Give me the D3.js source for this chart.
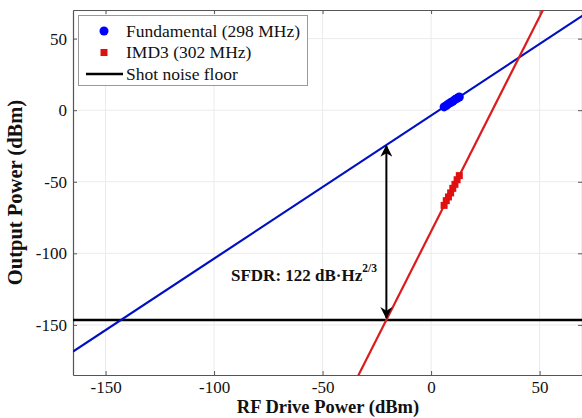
<!DOCTYPE html>
<html>
<head>
<meta charset="utf-8">
<script src="https://cdn.jsdelivr.net/npm/d3@7"></script>
<style>
  body { margin: 0; background: #fff; }
  text { font-family: "Liberation Serif", "Times New Roman", serif; }
</style>
</head>
<body>
<svg id="chart" width="582" height="418"></svg>
<script>
// measured drive powers (dBm) and output powers (dBm)
const drivePower = [6, 7, 8, 9, 10, 11, 12, 13]
const fundamental = [2.3, 3.2, 4.4, 5.3, 6.2, 7.4, 8.3, 9.2]
const imd3 = [-66.5, -63.2, -60.6, -57.8, -54.6, -51.8, -48.6, -45.7]

// fitted lines: output = slope * input + offset
const fundFit = {slope: 1, offset: -3.7}
const imd3Fit = {slope: 3, offset: -84.7}
const noiseFloor = -146.5

const xTicks = [-150, -100, -50, 0, 50]
const yTicks = [50, 0, -50, -100, -150]
const xDomain = [-165, 70]
const yDomain = [-185, 70]

const legendItems = [
  {label: 'Fundamental (298 MHz)', type: 'circle', color: '#0000ff'},
  {label: 'IMD3 (302 MHz)', type: 'square', color: '#e01010'},
  {label: 'Shot noise floor', type: 'line', color: '#000'}
]

const margin = {left: 73, right: 0, top: 10, bottom: 43}
const width = 582
const height = 418

const svg = d3.select('#chart')

const x = d3.scaleLinear().domain(xDomain).range([margin.left, width - margin.right + 1])
const y = d3.scaleLinear().domain(yDomain).range([height - margin.bottom, margin.top])

const plotW = x.range()[1] - x.range()[0]
const plotH = y.range()[0] - y.range()[1]

svg.append('defs').append('clipPath').attr('id', 'clip')
  .append('rect')
  .attr('x', x.range()[0]).attr('y', y.range()[1])
  .attr('width', plotW).attr('height', plotH)

// grid
const grid = svg.append('g')
grid.selectAll('.gx').data(xTicks).enter().append('line')
  .attr('x1', (d) => x(d)).attr('x2', (d) => x(d))
  .attr('y1', y.range()[1]).attr('y2', y.range()[0])
  .attr('stroke', '#ebebeb').attr('stroke-width', 1)
grid.selectAll('.gy').data(yTicks).enter().append('line')
  .attr('y1', (d) => y(d)).attr('y2', (d) => y(d))
  .attr('x1', x.range()[0]).attr('x2', x.range()[1])
  .attr('stroke', '#ebebeb').attr('stroke-width', 1)

// axes (hyphen minus like the original)
const fmt = (d) => String(d)
const axisColor = '#555'
const xAxis = svg.append('g')
  .attr('transform', `translate(0,${y.range()[0]})`)
  .call(d3.axisBottom(x).tickValues(xTicks).tickFormat(fmt).tickSizeInner(-4).tickSizeOuter(0).tickPadding(6))
const xAxisTop = svg.append('g')
  .attr('transform', `translate(0,${y.range()[1]})`)
  .call(d3.axisTop(x).tickValues(xTicks).tickSizeInner(-4).tickSizeOuter(0).tickFormat(''))
const yAxis = svg.append('g')
  .attr('transform', `translate(${x.range()[0]},0)`)
  .call(d3.axisLeft(y).tickValues(yTicks).tickFormat(fmt).tickSizeInner(-4).tickSizeOuter(0).tickPadding(6))
const yAxisRight = svg.append('g')
  .attr('transform', `translate(${x.range()[1] - 1},0)`)
  .call(d3.axisRight(y).tickValues(yTicks).tickSizeInner(-4).tickSizeOuter(0).tickFormat(''))

;[xAxis, xAxisTop, yAxis, yAxisRight].forEach((a) => {
  a.attr('font-family', 'Liberation Serif').attr('font-size', 17)
  a.select('.domain').attr('stroke', axisColor).attr('stroke-width', 1.2)
  a.selectAll('.tick line').attr('stroke', axisColor)
  a.selectAll('.tick text').attr('fill', '#111')
})

// fitted lines
const plot = svg.append('g').attr('clip-path', 'url(#clip)')
const fitLine = d3.line().x((d) => x(d[0])).y((d) => y(d[1]))
const fitPoints = (fit) => xDomain.map((v) => [v, fit.slope * v + fit.offset])

plot.append('path')
  .datum([[xDomain[0], noiseFloor], [xDomain[1], noiseFloor]])
  .attr('d', fitLine).attr('fill', 'none')
  .attr('stroke', '#000').attr('stroke-width', 2.5)

plot.append('path')
  .datum(fitPoints(fundFit))
  .attr('d', fitLine).attr('fill', 'none')
  .attr('stroke', '#0010c0').attr('stroke-width', 2.2)

plot.append('path')
  .datum(fitPoints(imd3Fit))
  .attr('d', fitLine).attr('fill', 'none')
  .attr('stroke', '#dc1c1c').attr('stroke-width', 2.2)

// data markers
plot.selectAll('.fund').data(drivePower).enter().append('circle')
  .attr('cx', (d) => x(d)).attr('cy', (d, i) => y(fundamental[i]))
  .attr('r', 4.5).attr('fill', '#0000ff')

plot.selectAll('.imd').data(drivePower).enter().append('rect')
  .attr('x', (d) => x(d) - 3.5).attr('y', (d, i) => y(imd3[i]) - 3.5)
  .attr('width', 7).attr('height', 7).attr('fill', '#e01010')

// SFDR arrow
const sfdrX = (noiseFloor - imd3Fit.offset) / imd3Fit.slope
const sfdrTop = fundFit.slope * sfdrX + fundFit.offset
const defs = svg.select('defs')
defs.append('marker').attr('id', 'arrow')
  .attr('viewBox', '0 0 10 10').attr('refX', 9).attr('refY', 5)
  .attr('markerWidth', 6.5).attr('markerHeight', 6)
  .attr('markerUnits', 'strokeWidth')
  .attr('orient', 'auto-start-reverse')
  .append('path').attr('d', 'M0,0 L10,5 L0,10 L3,5 Z').attr('fill', '#000')

svg.append('line')
  .attr('x1', x(sfdrX)).attr('x2', x(sfdrX))
  .attr('y1', y(sfdrTop) + 1).attr('y2', y(noiseFloor) - 2)
  .attr('stroke', '#000').attr('stroke-width', 2)
  .attr('marker-start', 'url(#arrow)')
  .attr('marker-end', 'url(#arrow)')

const sfdrText = svg.append('text')
  .attr('x', 231).attr('y', 281)
  .style('font-size', '17px').style('font-weight', 'bold')
  .attr('fill', '#111')
sfdrText.append('tspan').text('SFDR: 122 dB\u00b7Hz')
sfdrText.append('tspan').text('2/3').attr('dy', -9).style('font-size', '11.5px')

// legend
const legend = svg.append('g')
legend.append('rect')
  .attr('x', 78.5).attr('y', 15.5).attr('width', 229).attr('height', 70)
  .attr('fill', '#fff').attr('stroke', '#999').attr('stroke-width', 1)

legendItems.forEach((item, i) => {
  const ly = 31 + i * 21.5
  if (item.type === 'circle') {
    legend.append('circle').attr('cx', 104).attr('cy', ly).attr('r', 4.5).attr('fill', item.color)
  } else if (item.type === 'square') {
    legend.append('rect').attr('x', 100.5).attr('y', ly - 3.5).attr('width', 7).attr('height', 7).attr('fill', item.color)
  } else {
    legend.append('line').attr('x1', 86).attr('x2', 123).attr('y1', ly).attr('y2', ly)
      .attr('stroke', item.color).attr('stroke-width', 2.5)
  }
  legend.append('text')
    .attr('x', 126).attr('y', ly + 5.5)
    .style('font-size', '17.5px').attr('fill', '#111')
    .text(item.label)
})

// axis titles
svg.append('text')
  .attr('x', (x.range()[0] + x.range()[1]) / 2).attr('y', 413)
  .attr('text-anchor', 'middle')
  .style('font-size', '18.5px').style('font-weight', 'bold').attr('fill', '#111')
  .text('RF Drive Power (dBm)')

svg.append('text')
  .attr('transform', `translate(22,${(y.range()[0] + y.range()[1]) / 2}) rotate(-90)`)
  .attr('text-anchor', 'middle')
  .style('font-size', '20.5px').style('font-weight', 'bold').attr('fill', '#111')
  .text('Output Power (dBm)')
</script>
</body>
</html>
